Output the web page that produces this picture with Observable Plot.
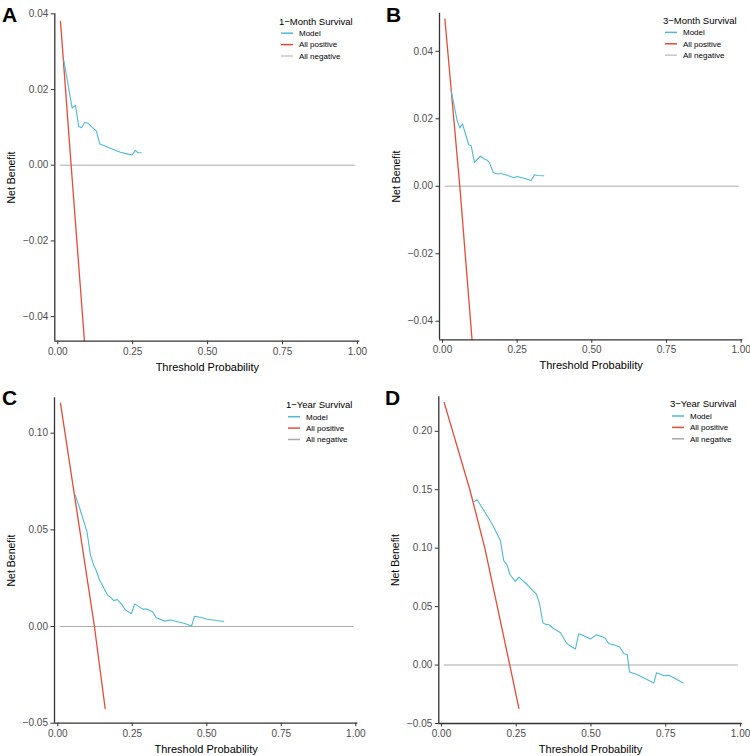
<!DOCTYPE html>
<html><head><meta charset="utf-8">
<script src="https://cdn.jsdelivr.net/npm/d3@7"></script>
<script src="https://cdn.jsdelivr.net/npm/@observablehq/plot@0.6"></script>
<style>
body{margin:0;background:#fff;}
#grid{display:grid;grid-template-columns:375px 375px;grid-template-rows:378px 378px;width:750px;height:756px;}
#grid svg{display:block;}
</style></head><body><div id="grid"></div>
<script>
// ---------- data ----------
const xTicks = [0, 0.25, 0.5, 0.75, 1];
const letters = ["A", "B", "C", "D"];
const legendTitles = ["1\u2212Month Survival", "3\u2212Month Survival", "1\u2212Year Survival", "3\u2212Year Survival"];
const seriesNames = ["Model", "All positive", "All negative"];

const yTicksA = [-0.04, -0.02, 0, 0.02, 0.04];
const yTicksB = [-0.04, -0.02, 0, 0.02, 0.04];
const yTicksC = [-0.05, 0, 0.05, 0.10];
const yTicksD = [-0.05, 0, 0.05, 0.10, 0.15, 0.20];

// A: 1-Month
const modelTA = [0.020,0.048,0.059,0.070,0.079,0.090,0.101,0.115,0.129,0.140,0.154,0.165,0.187,0.209,0.231,0.248,0.259,0.267,0.278];
const modelA  = [0.0277,0.0151,0.0158,0.0102,0.0099,0.0113,0.0111,0.0100,0.0090,0.0056,0.0052,0.0048,0.0041,0.0034,0.0030,0.0027,0.0039,0.0033,0.0033];
const posTA = [0.009, 0.0445, 0.089];
const posA  = [0.038, 0.0, -0.0465];

// B: 3-Month
const modelTB = [0.029,0.040,0.049,0.058,0.067,0.077,0.088,0.096,0.107,0.127,0.141,0.150,0.157,0.170,0.181,0.200,0.219,0.239,0.250,0.272,0.297,0.308,0.317,0.339];
const modelB  = [0.0283,0.0235,0.0195,0.0173,0.0185,0.0155,0.0123,0.0120,0.0071,0.0089,0.0080,0.0077,0.0071,0.0041,0.0037,0.0037,0.0032,0.0025,0.0029,0.0024,0.0017,0.0034,0.0032,0.0031];
const posTB = [0.008, 0.058, 0.099];
const posB  = [0.0496, 0.0, -0.0455];

// C: 1-Year
const modelTC = [0.059,0.076,0.098,0.110,0.121,0.129,0.141,0.154,0.168,0.177,0.188,0.199,0.213,0.227,0.247,0.258,0.272,0.285,0.300,0.317,0.331,0.359,0.378,0.423,0.449,0.459,0.479,0.501,0.557];
const modelC  = [0.0678,0.0600,0.0491,0.0367,0.0316,0.0290,0.0238,0.0200,0.0160,0.0152,0.0134,0.0140,0.0117,0.0086,0.0066,0.0117,0.0103,0.0090,0.0090,0.0078,0.0045,0.0028,0.0034,0.0017,0.0003,0.0053,0.0048,0.0038,0.0026];
const posTC = [0.009, 0.123, 0.159];
const posC  = [0.1155, 0.0, -0.0424];

// D: 3-Year
const modelTD = [0.108,0.119,0.142,0.169,0.197,0.208,0.220,0.229,0.247,0.259,0.287,0.318,0.328,0.339,0.348,0.359,0.376,0.398,0.418,0.431,0.448,0.459,0.476,0.498,0.518,0.546,0.560,0.576,0.596,0.610,0.621,0.629,0.654,0.710,0.719,0.744,0.760,0.783,0.808];
const modelD  = [0.1394,0.1414,0.1323,0.1209,0.1066,0.0895,0.0852,0.0775,0.0716,0.0753,0.0687,0.0604,0.0525,0.0362,0.0348,0.0345,0.0311,0.0277,0.0188,0.0163,0.0137,0.0268,0.0251,0.0222,0.0259,0.0234,0.0182,0.0174,0.0154,0.0097,0.0091,-0.0060,-0.0080,-0.0154,-0.0066,-0.0091,-0.0088,-0.0117,-0.0154];
const posTD = [0.009, 0.095, 0.145, 0.2285, 0.259];
const posD  = [0.2247, 0.15, 0.10, 0.0, -0.0371];

const negT  = [0.009, 0.99];
const negNB = [0, 0];

// ---------- styling / layout ----------
const colModel = "#4DBBD5", colPos = "#E64B35";
const FONT = "'Liberation Sans', Arial, Helvetica, sans-serif";

const panels = [
  {letter: 0, mT: modelTA, m: modelA, pT: posTA, p: posA, yTicks: yTicksA, yFmt: ".2f",
   mL: 54.3, mR: 15.7, mTop: 13.3, mB: 37.3, xd: [-0.01, 1.008], yd: [-0.0465, 0.04],
   negCol: "#c8c8c8", negW: 1.6, lx: 279, ly: 24.5, letX: 2, letY: 22},
  {letter: 1, mT: modelTB, m: modelB, pT: posTB, p: posB, yTicks: yTicksB, yFmt: ".2f",
   mL: 64, mR: 7.7, mTop: 12.7, mB: 38.7, xd: [-0.01, 1.0056], yd: [-0.0455, 0.0513],
   negCol: "#c8c8c8", negW: 1.6, lx: 288, ly: 23.7, letX: 11, letY: 22},
  {letter: 2, mT: modelTC, m: modelC, pT: posTC, p: posC, yTicks: yTicksC, yFmt: ".2f",
   mL: 54, mR: 17.7, mTop: 19.3, mB: 33.3, xd: [-0.011, 1.0067], yd: [-0.05, 0.1183],
   negCol: "#aaaaaa", negW: 1.1, lx: 286, ly: 30, letX: 2, letY: 27},
  {letter: 3, mT: modelTD, m: modelD, pT: posTD, p: posD, yTicks: yTicksD, yFmt: ".2f",
   mL: 63.3, mR: 8.3, mTop: 18.3, mB: 33, xd: [-0.0089, 1.0056], yd: [-0.05, 0.2295],
   negCol: "#aaaaaa", negW: 1.1, lx: 295, ly: 29.3, letX: 10, letY: 27}
];

const grid = document.getElementById("grid");

for (const c of panels) {
  const svg = Plot.plot({
    width: 375, height: 378,
    marginLeft: c.mL, marginRight: c.mR, marginTop: c.mTop, marginBottom: c.mB,
    style: {fontFamily: FONT, fontSize: "10px", background: "white", overflow: "visible"},
    x: {domain: c.xd, label: null},
    y: {domain: c.yd, label: null},
    marks: [
      Plot.line(negT, {x: negT, y: negNB, stroke: c.negCol, strokeWidth: c.negW}),
      Plot.line(c.pT, {x: c.pT, y: c.p, stroke: colPos, strokeWidth: 1.3}),
      Plot.line(c.mT, {x: c.mT, y: c.m, stroke: colModel, strokeWidth: 1.1}),
      Plot.ruleX([c.xd[0]], {stroke: "#333", strokeWidth: 1.3}),
      Plot.ruleY([c.yd[0]], {stroke: "#333", strokeWidth: 1.3}),
      Plot.axisX({ticks: xTicks, tickFormat: d3.format(".2f"), tickSize: 3.5, tickPadding: 3,
                  stroke: "#333", fill: "#4d4d4d", fontSize: 10, label: null}),
      Plot.axisY({ticks: c.yTicks, tickFormat: d3.format(c.yFmt), tickSize: 3.5, tickPadding: 3,
                  stroke: "#333", fill: "#4d4d4d", fontSize: 10, label: null}),
      Plot.text(["Threshold Probability"], {frameAnchor: "bottom", dy: 26, lineAnchor: "middle",
                  textAnchor: "middle", fontSize: 11, fill: "black"}),
      Plot.text(["Net Benefit"], {frameAnchor: "left", dx: -42.7, rotate: -90, lineAnchor: "middle",
                  textAnchor: "middle", fontSize: 10.5, fill: "black"})
    ]
  });
  const s = d3.select(svg);
  s.append("text").attr("x", c.letX).attr("y", c.letY).attr("text-anchor", "start")
    .attr("font-family", FONT).attr("font-weight", "bold").attr("font-size", 21).attr("fill", "black")
    .text(letters[c.letter]);
  const g = s.append("g").attr("font-family", FONT).attr("text-anchor", "start");
  g.append("text").attr("x", c.lx).attr("y", c.ly).attr("font-size", 9.5).attr("fill", "black")
    .attr("text-anchor", "start").text(legendTitles[c.letter]);
  const keyCols = [colModel, colPos, c.negCol];
  seriesNames.forEach((name, i) => {
    const yy = c.ly + 8.7 + i * 11.4;
    g.append("line").attr("x1", c.lx + 2).attr("x2", c.lx + 14).attr("y1", yy).attr("y2", yy)
      .attr("stroke", keyCols[i]).attr("stroke-width", 1.5);
    g.append("text").attr("x", c.lx + 20).attr("y", yy).attr("dy", "0.35em").attr("text-anchor", "start")
      .attr("font-size", 8).attr("fill", "black").text(name);
  });
  grid.appendChild(svg);
}
</script>
</body></html>
